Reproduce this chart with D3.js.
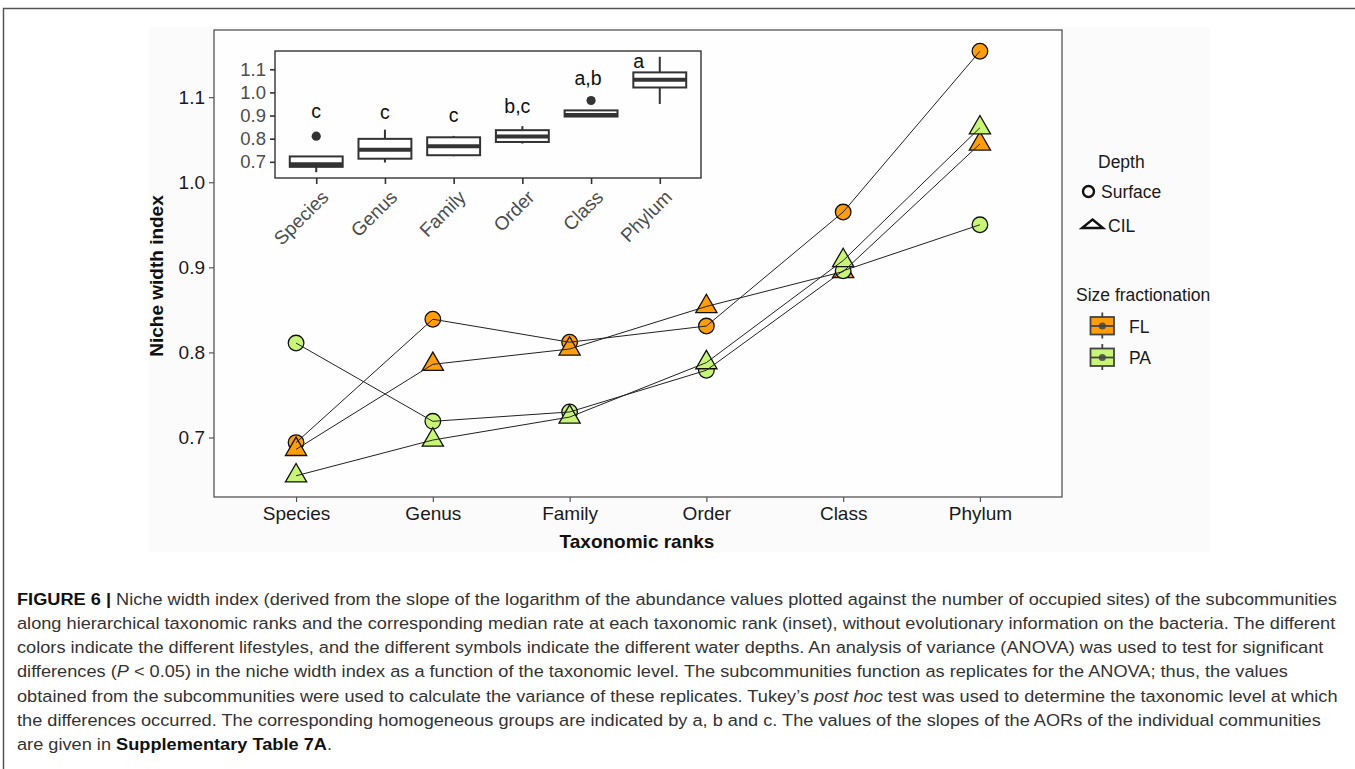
<!DOCTYPE html>
<html>
<head>
<meta charset="utf-8">
<script src="https://cdn.jsdelivr.net/npm/d3@7"></script>
<style>
  body { margin: 0; background: #fff; }
  svg { display: block; font-family: "Liberation Sans", Arial, Helvetica, sans-serif; }
</style>
</head>
<body>
<svg id="fig" width="1355" height="769"></svg>
<script>
// Dados (índice de largura de nicho)
const ranks = ['Species', 'Genus', 'Family', 'Order', 'Class', 'Phylum'];
const flSurface = [0.694, 0.839, 0.812, 0.831, 0.965, 1.154];
const flCIL = [0.686, 0.786, 0.804, 0.854, 0.895, 1.045];
const paSurface = [0.811, 0.719, 0.730, 0.779, 0.896, 0.950];
const paCIL = [0.655, 0.697, 0.724, 0.788, 0.908, 1.064];
const yTicks = [0.7, 0.8, 0.9, 1.0, 1.1];
const groupLetters = ['c', 'c', 'c', 'b,c', 'a,b', 'a'];
const letterBase = [0.891, 0.887, 0.872, 0.911, 1.034, 1.106];

const laranja = '#ff9d0a';
const verde = '#c8f577';

const series = [
  { nome: 'FL Surface', valores: flSurface, cor: laranja, forma: 'circle' },
  { nome: 'FL CIL', valores: flCIL, cor: laranja, forma: 'triangle' },
  { nome: 'PA Surface', valores: paSurface, cor: verde, forma: 'circle' },
  { nome: 'PA CIL', valores: paCIL, cor: verde, forma: 'triangle' }
];

const svg = d3.select('#fig');

// moldura da figura
svg.append('path')
  .attr('d', 'M3.5,769 L3.5,8.5 L1355,8.5')
  .attr('fill', 'none')
  .attr('stroke', '#555')
  .attr('stroke-width', 1.5);

// fundo levemente cinza da imagem do gráfico
svg.append('rect')
  .attr('x', 149).attr('y', 27).attr('width', 1061).attr('height', 525)
  .attr('fill', '#fbfbfb');

// Escalas do gráfico principal (expansão de 5% como no ggplot)
const todos = [].concat(flSurface, flCIL, paSurface, paCIL);
const [minV, maxV] = d3.extent(todos);
const pad = (maxV - minV) * 0.05;

const x = d3.scalePoint().domain(ranks).range([214, 1062]).padding(0.6);
const y = d3.scaleLinear().domain([minV - pad, maxV + pad]).range([497, 30]);

const g = svg.append('g');

// eixos
const eixoY = g.append('g')
  .attr('transform', 'translate(214,0)')
  .call(d3.axisLeft(y).tickValues(yTicks).tickFormat(d3.format('.1f')).tickSize(5).tickPadding(4));
const eixoX = g.append('g')
  .attr('transform', 'translate(0,497)')
  .call(d3.axisBottom(x).tickSize(5).tickPadding(5));

[eixoY, eixoX].forEach(e => {
  e.select('.domain').remove();
  e.selectAll('line').attr('stroke', '#555').attr('stroke-width', 1.2);
  e.selectAll('text').attr('font-size', 19).attr('fill', '#1a1a1a')
    .attr('font-family', '"Liberation Sans", Arial, sans-serif');
});

// borda do painel
g.append('rect')
  .attr('x', 214).attr('y', 30).attr('width', 848).attr('height', 467)
  .attr('fill', '#fefefe').attr('stroke', '#555').attr('stroke-width', 1.3)
  .lower();
g.select('rect').raise();

// títulos dos eixos
g.append('text')
  .attr('transform', 'translate(163,276) rotate(-90)')
  .attr('text-anchor', 'middle')
  .attr('font-size', 19).attr('font-weight', 'bold').attr('fill', '#111')
  .text('Niche width index');

g.append('text')
  .attr('x', 637).attr('y', 548)
  .attr('text-anchor', 'middle')
  .attr('font-size', 19).attr('font-weight', 'bold').attr('fill', '#111')
  .text('Taxonomic ranks');

// pontos
const triangulo = d3.symbol().type(d3.symbolTriangle).size(195);

series.forEach(s => {
  const pts = s.valores.map((v, i) => ({ r: ranks[i], v: v }));
  if (s.forma === 'circle') {
    g.selectAll(null).data(pts).enter().append('circle')
      .attr('cx', d => x(d.r)).attr('cy', d => y(d.v))
      .attr('r', 7.8)
      .attr('fill', s.cor).attr('stroke', '#111').attr('stroke-width', 1.3);
  } else {
    g.selectAll(null).data(pts).enter().append('path')
      .attr('d', triangulo)
      .attr('transform', d => `translate(${x(d.r)},${y(d.v)})`)
      .attr('fill', s.cor).attr('stroke', '#111').attr('stroke-width', 1.3);
  }
});

// linhas por cima dos pontos
const linha = d3.line().x((d, i) => x(ranks[i])).y(d => y(d));
series.forEach(s => {
  g.append('path')
    .attr('d', linha(s.valores))
    .attr('fill', 'none').attr('stroke', '#222').attr('stroke-width', 1);
});

// ---------- Inset (boxplot) ----------
const xi = d3.scalePoint().domain(ranks).range([275, 701]).padding(0.6);
const yi = d3.scaleLinear().domain(y.domain()).range([178, 51]);
const gi = svg.append('g');

gi.append('rect')
  .attr('x', 275).attr('y', 51).attr('width', 426).attr('height', 127)
  .attr('fill', '#fefefe').attr('stroke', '#333').attr('stroke-width', 1.4);

const eixoYi = gi.append('g')
  .attr('transform', 'translate(275,0)')
  .call(d3.axisLeft(yi).tickValues(yTicks).tickFormat(d3.format('.1f')).tickSize(5).tickPadding(4));
const eixoXi = gi.append('g')
  .attr('transform', 'translate(0,178)')
  .call(d3.axisBottom(xi).tickSize(6).tickFormat(''));

[eixoYi, eixoXi].forEach(e => {
  e.select('.domain').remove();
  e.selectAll('line').attr('stroke', '#333').attr('stroke-width', 1.6);
  e.selectAll('text').attr('font-size', 18.5).attr('fill', '#4d4d4d')
    .attr('font-family', '"Liberation Sans", Arial, sans-serif');
});

// rótulos inclinados
gi.selectAll(null).data(ranks).enter().append('text')
  .attr('transform', d => `translate(${xi(d) + 4},${189}) rotate(-45)`)
  .attr('text-anchor', 'end')
  .attr('dy', '0.7em')
  .attr('font-size', 19).attr('fill', '#4d4d4d')
  .text(d => d);

// estatísticas do boxplot
const caixas = ranks.map((r, i) => {
  const vals = series.map(s => s.valores[i]).sort(d3.ascending);
  const q1 = d3.quantile(vals, 0.25);
  const med = d3.quantile(vals, 0.5);
  const q3 = d3.quantile(vals, 0.75);
  const iqr = q3 - q1;
  const dentro = vals.filter(v => v >= q1 - 1.5 * iqr && v <= q3 + 1.5 * iqr);
  const fora = vals.filter(v => v < q1 - 1.5 * iqr || v > q3 + 1.5 * iqr);
  return { r: r, q1: q1, med: med, q3: q3, lo: d3.min(dentro), hi: d3.max(dentro), fora: fora };
});

const larg = xi.step() * 0.77;

caixas.forEach(c => {
  const cx = xi(c.r);
  gi.append('line')
    .attr('x1', cx).attr('x2', cx).attr('y1', yi(c.hi)).attr('y2', yi(c.q3))
    .attr('stroke', '#333').attr('stroke-width', 2);
  gi.append('line')
    .attr('x1', cx).attr('x2', cx).attr('y1', yi(c.q1)).attr('y2', yi(c.lo))
    .attr('stroke', '#333').attr('stroke-width', 2);
  gi.append('rect')
    .attr('x', cx - larg / 2).attr('width', larg)
    .attr('y', yi(c.q3)).attr('height', yi(c.q1) - yi(c.q3))
    .attr('fill', '#fff').attr('stroke', '#333').attr('stroke-width', 2);
  gi.append('line')
    .attr('x1', cx - larg / 2).attr('x2', cx + larg / 2)
    .attr('y1', yi(c.med)).attr('y2', yi(c.med))
    .attr('stroke', '#333').attr('stroke-width', 4);
  c.fora.forEach(v => {
    gi.append('circle')
      .attr('cx', cx).attr('cy', yi(v)).attr('r', 4.6)
      .attr('fill', '#333');
  });
});

// letras dos grupos homogêneos (com pequeno deslocamento como no original)
const deslocLetra = [0, 0, 0, -5, -3, -21];
gi.selectAll(null).data(groupLetters).enter().append('text')
  .attr('x', (d, i) => xi(ranks[i]) + deslocLetra[i])
  .attr('y', (d, i) => yi(letterBase[i]))
  .attr('text-anchor', 'middle')
  .attr('font-size', 19.5).attr('fill', '#111')
  .text(d => d);

// ---------- Legenda ----------
const leg = svg.append('g').attr('fill', '#1a1a1a').attr('font-size', 17.5);

leg.append('text').attr('x', 1098).attr('y', 168).text('Depth');

leg.append('circle').attr('cx', 1088.5).attr('cy', 191.5).attr('r', 5.5)
  .attr('fill', 'none').attr('stroke', '#111').attr('stroke-width', 2.4);
leg.append('text').attr('x', 1101).attr('y', 198).text('Surface');

leg.append('path').attr('d', 'M1092.5,219.5 L1103,228 L1082,228 Z')
  .attr('fill', 'none').attr('stroke', '#111').attr('stroke-width', 2.4)
  .attr('stroke-linejoin', 'miter');
leg.append('text').attr('x', 1108).attr('y', 232).text('CIL');

leg.append('text').attr('x', 1076).attr('y', 300.5).text('Size fractionation');

const chaves = [
  { rotulo: 'FL', cor: laranja, cy: 326 },
  { rotulo: 'PA', cor: verde, cy: 357.5 }
];
chaves.forEach(k => {
  leg.append('line').attr('x1', 1102.3).attr('x2', 1102.3)
    .attr('y1', k.cy - 13.5).attr('y2', k.cy + 12.5)
    .attr('stroke', '#444').attr('stroke-width', 1.8);
  leg.append('rect').attr('x', 1090.5).attr('y', k.cy - 9).attr('width', 23.5).attr('height', 17.5)
    .attr('fill', k.cor).attr('stroke', '#444').attr('stroke-width', 1.8);
  leg.append('line').attr('x1', 1090.5).attr('x2', 1114)
    .attr('y1', k.cy).attr('y2', k.cy)
    .attr('stroke', '#444').attr('stroke-width', 1.8);
  leg.append('circle').attr('cx', 1102.3).attr('cy', k.cy).attr('r', 3.6)
    .attr('fill', '#444').attr('fill-opacity', 0.85);
  leg.append('text').attr('x', 1129).attr('y', k.cy + 6.5).text(k.rotulo);
});

// ---------- Legenda da figura (texto) ----------
const legendaLinhas = [
  [['b', 'FIGURE 6 | '], ['n', 'Niche width index (derived from the slope of the logarithm of the abundance values plotted against the number of occupied sites) of the subcommunities']],
  [['n', 'along hierarchical taxonomic ranks and the corresponding median rate at each taxonomic rank (inset), without evolutionary information on the bacteria. The different']],
  [['n', 'colors indicate the different lifestyles, and the different symbols indicate the different water depths. An analysis of variance (ANOVA) was used to test for significant']],
  [['n', 'differences ('], ['i', 'P'], ['n', ' < 0.05) in the niche width index as a function of the taxonomic level. The subcommunities function as replicates for the ANOVA; thus, the values']],
  [['n', 'obtained from the subcommunities were used to calculate the variance of these replicates. Tukey\u2019s '], ['i', 'post hoc'], ['n', ' test was used to determine the taxonomic level at which']],
  [['n', 'the differences occurred. The corresponding homogeneous groups are indicated by a, b and c. The values of the slopes of the AORs of the individual communities']],
  [['n', 'are given in '], ['b', 'Supplementary Table 7A'], ['n', '.']]
];

const cap = svg.append('g').attr('font-size', 17);
const linhasTxt = legendaLinhas.map((partes, i) => {
  const t = cap.append('text')
    .attr('transform', `translate(17,${604.5 + i * 24.33})`)
    .attr('fill', '#333');
  partes.forEach(p => {
    const ts = t.append('tspan').text(p[1]);
    if (p[0] === 'b') ts.attr('font-weight', 'bold').attr('fill', '#111');
    if (p[0] === 'i') ts.attr('font-style', 'italic');
  });
  return t;
});

// comprime horizontalmente para caber como no original
const escala = 1321 / linhasTxt[0].node().getComputedTextLength();
linhasTxt.forEach((t, i) => {
  t.attr('transform', `translate(17,${604.5 + i * 24.33}) scale(${escala},1)`);
});
</script>
</body>
</html>
